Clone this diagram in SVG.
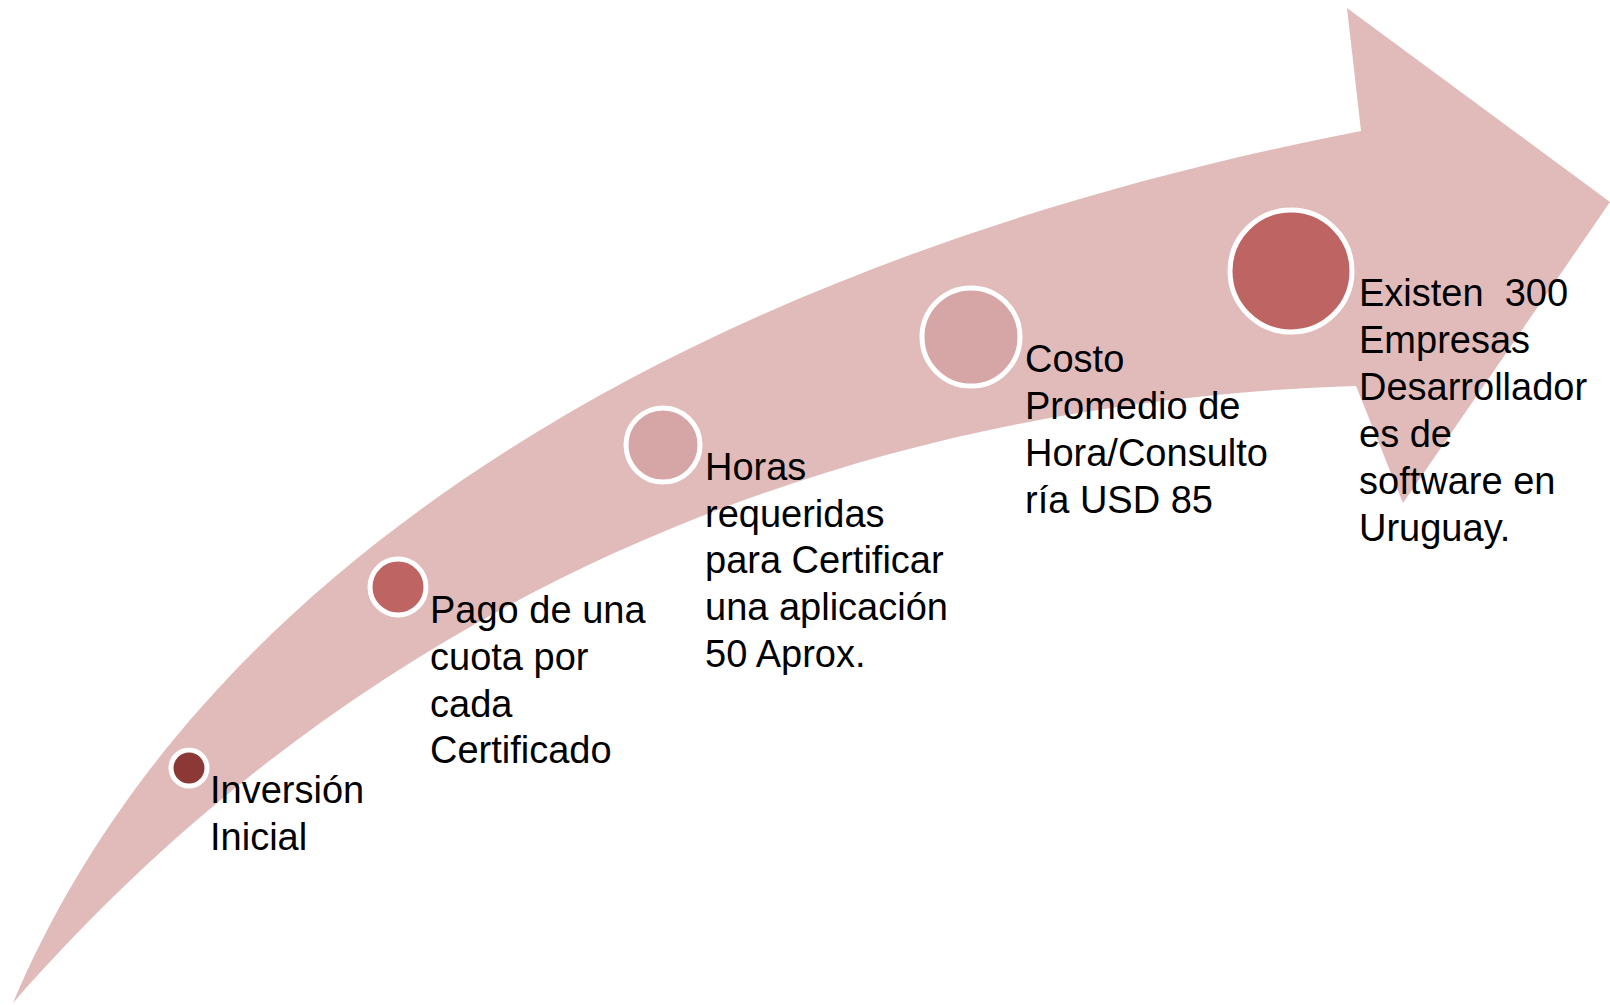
<svg xmlns="http://www.w3.org/2000/svg" width="1610" height="1005" viewBox="0 0 1610 1005">
<style>
.band{fill:#E0BBBA;}
.dot{stroke:#FFFFFF;stroke-width:5;}
.lbl{font-family:"Liberation Sans",Arial,sans-serif;font-size:38px;fill:#000000;white-space:pre;}
</style>
<rect width="1610" height="1005" fill="#FFFFFF"/>
<g id="arrow">
<path class="band" d="M13,1003 C200,560 700,260 1361,131 L1347,8 L1610,202 L1403,503 L1356,386 C900,400 400,560 13,1003 Z"/>
</g>
<g id="node1">
<circle class="dot" cx="189" cy="768" r="18" fill="#8C3836"/>
<text class="lbl" x="210" y="803">Inversión</text>
<text class="lbl" x="210" y="850">Inicial</text>
</g>
<g id="node2">
<circle class="dot" cx="398" cy="587" r="28" fill="#BE6462"/>
<text class="lbl" x="430" y="623">Pago de una</text>
<text class="lbl" x="430" y="670">cuota por</text>
<text class="lbl" x="430" y="717">cada</text>
<text class="lbl" x="430" y="763">Certificado</text>
</g>
<g id="node3">
<circle class="dot" cx="663" cy="445" r="37" fill="#D6A6A6"/>
<text class="lbl" x="705" y="480">Horas</text>
<text class="lbl" x="705" y="527">requeridas</text>
<text class="lbl" x="705" y="573">para Certificar</text>
<text class="lbl" x="705" y="620">una aplicación</text>
<text class="lbl" x="705" y="667">50 Aprox.</text>
</g>
<g id="node4">
<circle class="dot" cx="971" cy="337" r="49" fill="#D6A6A6"/>
<text class="lbl" x="1025" y="372">Costo</text>
<text class="lbl" x="1025" y="419">Promedio de</text>
<text class="lbl" x="1025" y="466">Hora/Consulto</text>
<text class="lbl" x="1025" y="513">ría USD 85</text>
</g>
<g id="node5">
<circle class="dot" cx="1291" cy="271" r="61" fill="#BE6462"/>
<text class="lbl" x="1359" y="306">Existen  300</text>
<text class="lbl" x="1359" y="353">Empresas</text>
<text class="lbl" x="1359" y="400">Desarrollador</text>
<text class="lbl" x="1359" y="447">es de</text>
<text class="lbl" x="1359" y="494">software en</text>
<text class="lbl" x="1359" y="541">Uruguay.</text>
</g>
<g id="connectors"></g>
</svg>
